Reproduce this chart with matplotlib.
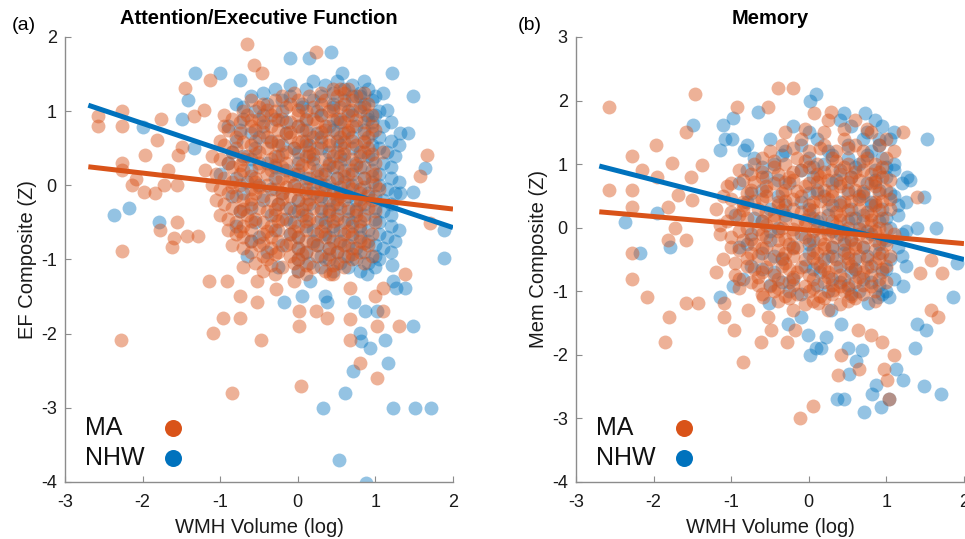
import numpy as np
import matplotlib.pyplot as plt

plt.rcParams['font.family'] = ['Liberation Sans', 'DejaVu Sans']
plt.rcParams['axes.unicode_minus'] = False

MA_COLOR = '#D95319'
NHW_COLOR = '#0072BD'

# ---- (a) Attention/Executive Function ----
# sparse points (x, y)
ef_ma_pts = [
    (-0.66, 1.91), (0.24, 1.80), (-0.57, 1.62), (-0.46, 1.51), (-1.45, 1.31), (-1.13, 1.42),
    (-2.57, 0.93), (-2.57, 0.80), (-2.27, 1.00), (-2.27, 0.80), (-1.76, 0.90), (-1.97, 0.41),
    (-2.27, 0.30), (-2.27, 0.21), (-2.09, 0.09), (-2.14, 0.00), (-1.98, -0.09), (-1.84, -0.10),
    (-1.72, 0.00), (-1.56, 0.00), (-1.67, 0.20), (-1.54, 0.41), (-1.82, 0.61), (-1.49, 0.52),
    (-1.34, 0.93), (-1.21, 1.02), (1.66, 0.41), (1.58, 0.12), (1.70, -0.51), (-2.27, -0.89),
    (-1.77, -0.60), (-1.56, -0.49), (-1.60, -0.71), (-1.43, -0.69), (-1.28, -0.69), (-1.62, -0.83),
    (-1.14, -1.29), (-0.91, -1.29), (-0.74, -1.49), (-0.53, -1.58), (-0.53, -1.29), (-1.09, -1.99),
    (-0.96, -1.79), (-0.75, -1.79), (-2.28, -2.09), (-0.47, -2.09), (-0.85, -2.80), (0.04, -2.70),
    (0.02, -1.90), (0.02, -1.70), (0.24, -1.70), (0.38, -1.79), (-0.28, -1.40), (-0.05, -1.29),
    (0.67, -2.09), (0.67, -1.39), (0.67, -1.80), (1.02, -1.90), (1.02, -2.60), (1.30, -1.90),
    (1.10, -1.70), (1.00, -1.49), (1.10, -1.39), (1.38, -1.19), (0.80, -2.40), (0.42, -1.19),
]
ef_nhw_pts = [
    (-1.32, 1.51), (-1.00, 1.51), (-0.74, 1.42), (-0.10, 1.71), (0.14, 1.71), (0.43, 1.80),
    (0.57, 1.51), (1.21, 1.51), (1.49, 1.20), (1.15, 1.02), (1.42, 0.70), (1.49, -0.09),
    (1.64, 0.23), (1.88, -0.60), (1.88, -0.98), (1.21, -1.07), (-2.37, -0.40), (-2.18, -0.31),
    (-1.79, -0.49), (-1.41, 1.15), (-1.49, 0.90), (-1.34, 0.50), (-1.99, 0.79), (0.80, 1.20),
    (0.89, 0.95), (1.32, 0.70), (1.32, -0.11),
    (-0.18, -1.58), (0.05, -1.49), (0.35, -1.49), (0.37, -1.58), (0.72, -1.58), (0.87, -1.70),
    (1.02, -1.70), (0.80, -1.99), (0.82, -2.10), (0.93, -2.19), (1.12, -2.09), (1.16, -2.40),
    (0.71, -2.50), (0.61, -2.80), (0.32, -3.00), (1.23, -3.00), (1.51, -3.00), (1.72, -3.00),
    (0.53, -3.71), (0.88, -4.01), (1.49, -1.90), (1.23, -1.29), (1.38, -1.39), (1.27, -1.39),
    (0.89, -1.19), (0.16, -1.29),
]
# dense core, read row by row (y level: x positions)
ef_ma_core = {
    1.3: [0.45, 0.65, 0.55], 1.2: [-0.2, 0.15, 0.5, 0.75], 1.1: [-0.45, -0.1, 0.3, 0.6, 0.9],
    1.0: [-0.7, -0.3, 0.1, 0.4, 0.8], 0.9: [-0.85, -0.5, -0.2, 0.2, 0.55],
    0.8: [-0.95, -0.6, -0.35, 0.0, 0.35, 0.7, 0.95], 0.7: [-0.75, -0.15, 0.15, 0.5, 0.85],
    0.6: [-1.0, -0.55, -0.25, 0.05, 0.4, 0.7], 0.5: [-0.8, -0.4, -0.05, 0.25, 0.6, 0.9],
    0.4: [-1.1, -0.65, -0.3, 0.1, 0.45, 0.8], 0.3: [-0.9, -0.5, -0.15, 0.2, 0.55, 1.0],
    0.2: [-1.2, -0.7, -0.35, 0.0, 0.35, 0.7], 0.1: [-0.95, -0.55, -0.2, 0.15, 0.5, 0.85],
    0.0: [-1.1, -0.75, -0.4, -0.05, 0.3, 0.65, 1.0], -0.1: [-0.9, -0.55, -0.2, 0.1, 0.45, 0.8],
    -0.2: [-1.05, -0.7, -0.35, 0.0, 0.3, 0.6, 0.95], -0.3: [-0.85, -0.5, -0.15, 0.2, 0.55, 0.9],
    -0.4: [-1.0, -0.65, -0.3, 0.05, 0.4, 0.75], -0.5: [-0.8, -0.45, -0.1, 0.25, 0.6, 1.0],
    -0.6: [-0.9, -0.6, -0.25, 0.1, 0.45, 0.8], -0.7: [-0.7, -0.35, 0.0, 0.35, 0.7],
    -0.8: [-0.85, -0.5, -0.15, 0.25, 0.6, 0.9], -0.9: [-0.6, -0.25, 0.1, 0.5, 0.8],
    -1.0: [-0.4, 0.0, 0.35, 0.7], -1.1: [-0.7, -0.2, 0.2, 0.6], -1.2: [-0.3, 0.1, 0.45],
    1.25: [-0.05, 0.3, 0.6, 0.85], 1.15: [-0.6, -0.3, 0.0, 0.35, 0.7],
    1.05: [-0.5, -0.15, 0.2, 0.55, 0.85], 0.95: [-0.95, -0.65, -0.35, 0.0, 0.3, 0.65, 0.95],
    0.85: [-0.75, -0.45, -0.1, 0.25, 0.6, 0.85], 0.75: [-0.9, -0.55, -0.25, 0.05, 0.35, 0.65, 1.0],
    0.65: [-0.8, -0.4, -0.1, 0.2, 0.55, 0.9], 0.55: [-0.95, -0.6, -0.25, 0.1, 0.4, 0.75],
    0.45: [-0.85, -0.5, -0.15, 0.15, 0.5, 0.85, 1.1], 0.35: [-1.0, -0.7, -0.35, 0.0, 0.35, 0.7],
    0.25: [-0.85, -0.5, -0.2, 0.15, 0.5, 0.85], 0.15: [-1.05, -0.75, -0.4, -0.05, 0.3, 0.65, 1.0],
    0.05: [-0.85, -0.55, -0.25, 0.1, 0.4, 0.75], -0.05: [-1.0, -0.6, -0.3, 0.0, 0.35, 0.7, 1.05],
    -0.15: [-0.8, -0.45, -0.1, 0.25, 0.55, 0.9], -0.25: [-0.95, -0.6, -0.25, 0.1, 0.45, 0.8],
    -0.35: [-0.75, -0.4, -0.05, 0.3, 0.65, 1.0], -0.45: [-0.9, -0.55, -0.2, 0.15, 0.5, 0.85],
    -0.55: [-0.7, -0.35, 0.0, 0.35, 0.7], -0.65: [-0.8, -0.45, -0.1, 0.25, 0.6, 0.95],
    -0.75: [-0.6, -0.25, 0.1, 0.45, 0.8], -0.85: [-0.7, -0.35, 0.0, 0.4, 0.7],
    -0.95: [-0.45, -0.1, 0.25, 0.6, 0.95], -1.05: [-0.55, -0.05, 0.5, 0.85],
    -1.15: [-0.45, 0.0, 0.35],
}
# the most crowded middle of the MA cloud
ef_ma_dense = {
    1.02: [-0.4, 0.0, 0.45, 0.7], 0.88: [-0.6, -0.25, 0.1, 0.45, 0.75],
    0.72: [-0.45, -0.1, 0.3, 0.65], 0.58: [-0.7, -0.35, 0.0, 0.3, 0.6, 0.85],
    0.42: [-0.55, -0.2, 0.2, 0.6, 0.95], 0.28: [-0.75, -0.3, 0.05, 0.4, 0.75],
    0.12: [-0.6, -0.1, 0.25, 0.6, 0.95], -0.02: [-0.85, -0.5, -0.15, 0.2, 0.55, 0.85],
    -0.18: [-0.6, -0.2, 0.15, 0.5, 0.8], -0.32: [-0.7, -0.3, 0.05, 0.4, 0.75],
    -0.48: [-0.6, -0.25, 0.1, 0.45, 0.8], -0.62: [-0.75, -0.4, -0.05, 0.3, 0.65],
    -0.78: [-0.45, -0.1, 0.2, 0.55, 0.85], -0.92: [-0.3, 0.05, 0.4, 0.7],
    -1.08: [-0.35, 0.1, 0.45],
}
ef_nhw_core = {
    1.4: [0.2, 0.5, 0.85], 1.3: [-0.3, 0.1, 0.6, 0.9], 1.2: [-0.6, -0.1, 0.3, 0.7, 1.0],
    1.1: [-0.8, -0.4, 0.05, 0.45, 0.85], 1.0: [-0.55, -0.2, 0.25, 0.65, 1.05],
    0.9: [-0.7, -0.3, 0.1, 0.5, 0.9], 0.8: [-0.9, -0.45, 0.0, 0.4, 0.75, 1.1],
    0.7: [-0.6, -0.15, 0.25, 0.6, 0.95], 0.6: [-0.8, -0.35, 0.1, 0.5, 0.85, 1.2],
    0.5: [-0.55, -0.05, 0.3, 0.7, 1.05], 0.4: [-0.7, -0.25, 0.15, 0.55, 0.9, 1.25],
    0.3: [-0.9, -0.4, 0.0, 0.4, 0.75, 1.1], 0.2: [-0.6, -0.15, 0.25, 0.6, 0.95],
    0.1: [-0.8, -0.3, 0.1, 0.5, 0.85, 1.2], 0.0: [-0.5, -0.05, 0.35, 0.7, 1.05],
    -0.1: [-0.7, -0.2, 0.2, 0.55, 0.9, 1.25], -0.2: [-0.45, 0.0, 0.4, 0.75, 1.1],
    -0.3: [-0.6, -0.1, 0.3, 0.65, 1.0], -0.4: [-0.35, 0.1, 0.5, 0.85, 1.2],
    -0.5: [-0.55, -0.05, 0.35, 0.7, 1.05], -0.6: [-0.3, 0.2, 0.55, 0.9, 1.3],
    -0.7: [-0.5, 0.0, 0.4, 0.8, 1.15], -0.8: [-0.2, 0.25, 0.65, 1.0],
    -0.9: [-0.4, 0.1, 0.5, 0.85, 1.2], -1.0: [0.0, 0.4, 0.75, 1.05], -1.1: [-0.25, 0.3, 0.65, 1.0],
    1.35: [-0.1, 0.35, 0.7], 1.25: [-0.45, 0.45, 0.8, 1.1], 1.15: [-0.2, 0.2, 0.6, 0.95],
    1.05: [-0.7, 0.05, 0.45, 0.8], 0.95: [-0.45, 0.3, 0.7, 1.0], 0.85: [-0.15, 0.55, 0.95, 1.2],
    0.75: [-0.75, 0.1, 0.45, 0.85], 0.65: [-0.5, 0.3, 0.7, 1.05],
    0.55: [-0.2, 0.15, 0.55, 0.95, 1.3], 0.45: [-0.85, 0.0, 0.4, 0.8, 1.15],
    0.35: [-0.6, 0.2, 0.6, 0.95], 0.25: [-0.3, 0.45, 0.8, 1.2],
    0.15: [-1.0, 0.0, 0.35, 0.7, 1.05], 0.05: [-0.65, 0.25, 0.6, 0.95, 1.3],
    -0.05: [-0.35, 0.1, 0.45, 0.8, 1.15], -0.15: [-0.85, 0.3, 0.65, 1.0],
    -0.25: [-0.25, 0.15, 0.5, 0.85, 1.2], -0.35: [-0.75, 0.0, 0.4, 0.75, 1.1],
    -0.45: [-0.15, 0.3, 0.65, 1.0], -0.55: [-0.8, 0.1, 0.45, 0.8, 1.2],
    -0.65: [-0.1, 0.35, 0.7, 1.05], -0.75: [-0.6, 0.2, 0.55, 0.9, 1.25],
    -0.85: [0.0, 0.4, 0.75, 1.1], -0.95: [-0.65, 0.3, 0.65, 1.0],
    -1.05: [0.15, 0.55, 0.9], -1.15: [0.0, 0.45, 0.8],
}

# ---- (b) Memory ----
mem_ma_pts = [
    (-2.57, 1.90), (-1.46, 2.11), (-0.40, 2.20), (-0.20, 2.20), (-0.93, 1.90), (-0.53, 1.90),
    (-1.58, 1.51), (-1.97, 1.30), (-2.28, 1.12), (-2.15, 0.91), (-1.96, 0.80), (-1.76, 1.01),
    (-2.57, 0.60), (-2.28, 0.60), (-2.28, 0.33), (-1.81, 0.33), (-1.68, 0.51), (-1.52, 0.80),
    (-1.38, 0.98), (-1.51, 0.43), (-1.73, 0.00), (-1.82, -0.19), (-1.58, -0.19), (-2.28, -0.40),
    (1.40, 0.49), (1.21, 1.51), (1.57, -0.51), (0.29, 1.82), (0.07, 1.80),
    (-2.28, -0.80), (-2.09, -1.09), (-1.80, -1.40), (-1.85, -1.80), (-1.58, -1.19), (-1.43, -1.19),
    (-1.09, -1.19), (-1.09, -1.40), (-0.96, -1.61), (-0.85, -2.11), (-0.62, -1.80), (-0.28, -1.80),
    (-0.59, -1.09), (-0.78, -1.30), (-0.53, -1.40), (-0.49, -1.61), (-0.18, -1.61), (-0.11, -3.00),
    (0.05, -2.81), (0.38, -2.31), (0.42, -2.01), (0.65, -2.22), (0.97, -2.22), (1.01, -2.40),
    (1.04, -2.70), (1.10, -2.01), (0.95, -1.80), (0.80, -1.69), (0.63, -1.61), (1.57, -1.30),
    (1.66, -1.40), (1.72, -0.72), (1.44, -0.72), (0.12, -1.19), (0.31, -0.98),
]
mem_nhw_pts = [
    (0.09, 2.11), (0.01, 2.00), (-1.49, 1.61), (-1.10, 1.61), (-0.98, 1.72), (-0.66, 1.82),
    (-1.08, 1.40), (-0.99, 1.40), (-1.15, 1.22), (-0.83, 1.22), (-2.37, 0.09), (-1.96, 0.23),
    (-1.79, -0.30), (-2.18, -0.40), (1.53, 1.40), (1.49, 0.49), (1.64, 0.00), (1.40, -0.01),
    (1.27, 0.80), (1.10, 0.91), (0.73, 1.80), (0.91, 1.40), (0.46, 1.80), (1.91, -0.56),
    (-1.15, -1.09), (-0.98, -0.91), (-0.51, -1.19), (-0.27, -1.51), (-0.10, -1.40), (-0.01, -1.69),
    (0.01, -2.01), (0.09, -1.90), (0.16, -1.90), (0.22, -1.72), (0.37, -2.69), (0.45, -2.69),
    (0.50, -1.90), (0.52, -2.30), (0.61, -2.09), (0.69, -1.93), (0.71, -2.90), (0.82, -2.61),
    (0.87, -2.48), (0.93, -2.82), (1.04, -2.69), (1.12, -2.22), (1.22, -2.40), (1.37, -1.90),
    (1.40, -1.51), (1.51, -1.61), (1.49, -2.49), (1.71, -2.61), (1.86, -1.09), (0.29, -1.30),
    (0.42, -1.51), (0.76, -1.19), (0.89, -1.09), (1.04, -1.09), (1.21, -0.91),
]
mem_ma_core = {
    1.7: [0.25, 0.6], 1.5: [-0.3, 0.2, 0.8], 1.4: [-0.1, 0.45, 1.0],
    1.2: [-0.5, 0.0, 0.35, 0.7, 1.1], 1.0: [-0.7, -0.3, 0.1, 0.5, 0.85],
    0.9: [-0.9, -0.1, 0.3, 0.7], 0.8: [-0.6, -0.25, 0.15, 0.55, 0.95],
    0.7: [-1.0, -0.45, 0.0, 0.4, 0.8], 0.6: [-0.75, -0.3, 0.2, 0.6, 1.0],
    0.5: [-1.1, -0.55, -0.1, 0.3, 0.7], 0.4: [-0.85, -0.4, 0.05, 0.45, 0.85],
    0.3: [-1.2, -0.65, -0.2, 0.25, 0.65, 1.05], 0.2: [-0.9, -0.45, 0.0, 0.4, 0.8],
    0.1: [-1.05, -0.6, -0.15, 0.3, 0.7], 0.0: [-0.8, -0.35, 0.1, 0.5, 0.9],
    -0.1: [-1.15, -0.6, -0.2, 0.25, 0.65, 1.1], -0.2: [-0.85, -0.4, 0.0, 0.45, 0.85],
    -0.3: [-1.0, -0.55, -0.15, 0.3, 0.7], -0.4: [-0.75, -0.3, 0.1, 0.5, 0.95],
    -0.5: [-1.1, -0.5, -0.05, 0.35, 0.75], -0.6: [-0.8, -0.35, 0.15, 0.55, 1.0],
    -0.7: [-1.2, -0.6, -0.15, 0.25, 0.7], -0.8: [-0.9, -0.4, 0.05, 0.45, 0.9],
    -0.9: [-0.65, -0.2, 0.3, 0.7], -1.0: [-0.45, 0.0, 0.45, 0.85],
    -1.1: [-0.25, 0.2, 0.6], -1.2: [-0.05, 0.4],
    1.55: [-0.05, 0.45, 0.75], 1.3: [-0.35, 0.2, 0.6, 0.9], 1.1: [-0.6, -0.15, 0.3, 0.75, 1.0],
    0.95: [-0.45, 0.0, 0.45, 0.95], 0.85: [-0.75, -0.4, 0.1, 0.4, 0.8],
    0.75: [-0.85, -0.2, 0.25, 0.65, 1.05], 0.65: [-1.05, -0.55, -0.05, 0.4, 0.85],
    0.55: [-0.8, -0.35, 0.1, 0.5, 0.9], 0.45: [-1.0, -0.6, -0.2, 0.25, 0.65, 1.05],
    0.35: [-0.85, -0.4, 0.0, 0.4, 0.85], 0.25: [-1.0, -0.55, -0.1, 0.35, 0.75],
    0.15: [-0.8, -0.3, 0.15, 0.55, 0.95], 0.05: [-1.15, -0.55, -0.05, 0.35, 0.8],
    -0.05: [-0.9, -0.4, 0.05, 0.45, 0.85], -0.15: [-1.0, -0.55, -0.05, 0.35, 0.75],
    -0.25: [-0.7, -0.25, 0.2, 0.6, 1.0], -0.35: [-0.9, -0.4, 0.05, 0.45, 0.85],
    -0.45: [-0.65, -0.2, 0.25, 0.65, 1.05], -0.55: [-0.95, -0.3, 0.1, 0.5, 0.85],
    -0.65: [-0.7, -0.25, 0.2, 0.6, 0.95], -0.75: [-0.95, -0.45, 0.0, 0.4, 0.8],
    -0.85: [-0.75, -0.25, 0.2, 0.6, 1.0], -0.95: [-0.9, -0.4, 0.05, 0.5],
    -1.05: [-0.6, -0.15, 0.3, 0.7], -1.15: [-0.4, 0.05, 0.5, 0.85], -1.3: [-0.2, 0.25],
}
mem_ma_dense = {
    1.25: [-0.2, 0.15, 0.5], 1.05: [-0.45, -0.05, 0.35, 0.7],
    0.88: [-0.6, -0.2, 0.2, 0.6, 0.9], 0.72: [-0.7, -0.3, 0.1, 0.5, 0.85],
    0.58: [-0.55, -0.15, 0.3, 0.7], 0.42: [-0.7, -0.3, 0.15, 0.55, 0.95],
    0.28: [-0.85, -0.35, 0.05, 0.5, 0.9], 0.12: [-0.45, -0.05, 0.4, 0.8],
    -0.02: [-0.65, -0.2, 0.25, 0.65, 1.0], -0.18: [-0.75, -0.3, 0.15, 0.55, 0.95],
    -0.32: [-0.6, -0.2, 0.2, 0.6], -0.48: [-0.8, -0.35, 0.05, 0.5, 0.9],
    -0.62: [-0.55, -0.1, 0.35, 0.75], -0.78: [-0.65, -0.2, 0.25, 0.65],
    -0.92: [-0.5, -0.05, 0.4, 0.8], -1.08: [-0.3, 0.15, 0.55],
}
mem_nhw_core = {
    1.7: [0.4, 0.85], 1.6: [-0.2, 0.55, 0.95], 1.4: [-0.5, 0.1, 0.7, 1.05],
    1.2: [-0.3, 0.25, 0.8], 1.1: [-0.7, 0.0, 0.5, 0.95], 1.0: [-0.45, 0.2, 0.65, 1.1],
    0.9: [-0.8, -0.1, 0.4, 0.85], 0.8: [-0.55, 0.05, 0.55, 1.0],
    0.7: [-0.9, -0.25, 0.3, 0.75, 1.2], 0.6: [-0.6, 0.1, 0.5, 0.9],
    0.5: [-0.4, 0.2, 0.65, 1.1], 0.4: [-0.8, -0.1, 0.4, 0.8, 1.25],
    0.3: [-0.5, 0.0, 0.55, 0.95], 0.2: [-0.95, -0.3, 0.25, 0.7, 1.15],
    0.1: [-0.6, 0.1, 0.5, 0.9], 0.0: [-0.4, 0.2, 0.65, 1.05],
    -0.1: [-0.75, -0.1, 0.4, 0.8, 1.2], -0.2: [-0.5, 0.05, 0.55, 1.0],
    -0.3: [-0.9, -0.2, 0.3, 0.7, 1.15], -0.4: [-0.6, 0.0, 0.45, 0.9],
    -0.5: [-0.35, 0.2, 0.6, 1.05], -0.6: [-0.75, -0.05, 0.4, 0.8, 1.25],
    -0.7: [-0.45, 0.15, 0.55, 0.95], -0.8: [-0.85, -0.2, 0.3, 0.7, 1.1],
    -0.9: [-0.5, 0.1, 0.5, 0.9], -1.0: [-0.25, 0.25, 0.65, 1.0],
    1.5: [0.0, 0.75, 1.1], 1.3: [-0.8, -0.1, 0.5, 0.9], 1.15: [-0.35, 0.3, 0.75],
    0.95: [-0.6, 0.05, 0.6, 1.0], 0.75: [-0.4, 0.35, 0.85, 1.3], 0.55: [-0.75, 0.0, 0.7, 1.05],
    0.35: [-0.3, 0.3, 0.8, 1.15], 0.15: [-0.7, 0.05, 0.6, 1.0], -0.05: [-0.5, 0.3, 0.75, 1.25],
    -0.25: [-0.8, 0.0, 0.45, 0.9], -0.45: [-0.45, 0.3, 0.75, 1.2], -0.65: [-0.6, 0.05, 0.6, 1.0],
    -0.85: [-0.35, 0.4, 0.8], -1.05: [-0.1, 0.55, 0.95],
}

# fitted lines: values at the two ends
fit_x = [-2.7, 2.0]
ef_fit_ma = [0.25, -0.32]
ef_fit_nhw = [1.08, -0.57]
mem_fit_ma = [0.25, -0.25]
mem_fit_nhw = [0.97, -0.50]

groups = ['MA', 'NHW']


def collect(pts, *cores):
    xs = [p[0] for p in pts]
    ys = [p[1] for p in pts]
    for core in cores:
        for y, row in core.items():
            xs += row
            ys += [y] * len(row)
    return np.array(xs), np.array(ys)


fig = plt.figure(figsize=(9.65, 5.39), dpi=100)
ax_a = fig.add_axes([0.0674, 0.1058, 0.402, 0.8256])
ax_b = fig.add_axes([0.5969, 0.1058, 0.402, 0.8256])

panels = [
    (ax_a, collect(ef_ma_pts, ef_ma_core, ef_ma_dense), collect(ef_nhw_pts, ef_nhw_core),
     ef_fit_ma, ef_fit_nhw, 'Attention/Executive Function', 'EF Composite (Z)', (-4, 2)),
    (ax_b, collect(mem_ma_pts, mem_ma_core, mem_ma_dense), collect(mem_nhw_pts, mem_nhw_core),
     mem_fit_ma, mem_fit_nhw, 'Memory', 'Mem Composite (Z)', (-4, 3)),
]

for ax, (mx, my), (nx, ny), fit_ma, fit_nhw, title, ylabel, ylim in panels:
    # NHW underneath, MA on top (as in the original)
    ax.scatter(nx, ny, s=100, color=NHW_COLOR, alpha=0.42, linewidths=0, zorder=2)
    ax.scatter(mx, my, s=100, color=MA_COLOR, alpha=0.45, linewidths=0, zorder=2)
    ax.plot(fit_x, fit_nhw, color=NHW_COLOR, lw=3.6, solid_capstyle='butt', zorder=3)
    ax.plot(fit_x, fit_ma, color=MA_COLOR, lw=3.6, solid_capstyle='butt', zorder=3)

    ax.set_xlim(-3, 2)
    ax.set_ylim(*ylim)
    ax.set_xticks(range(-3, 3))
    ax.set_yticks(range(ylim[0], ylim[1] + 1))
    for s in ['top', 'right']:
        ax.spines[s].set_visible(False)
    for s in ['left', 'bottom']:
        ax.spines[s].set_color('#8c8c8c')
        ax.spines[s].set_linewidth(1.0)
    ax.tick_params(direction='in', length=4, color='#8c8c8c', labelsize=13,
                   labelcolor='#1a1a1a')
    ax.tick_params(axis='x', pad=9)
    ax.tick_params(axis='y', pad=6)
    ax.set_title(title, fontsize=14.5, fontweight='bold', pad=9)
    ax.set_xlabel('WMH Volume (log)', fontsize=14.5, color='#1a1a1a', labelpad=5)
    ax.set_ylabel(ylabel, fontsize=14.5, color='#1a1a1a', labelpad=3)

    # legend drawn by hand: label on the left, solid marker on the right
    for name, color, ly in zip(groups, [MA_COLOR, NHW_COLOR], [0.121, 0.054]):
        ax.text(0.052, ly, name, transform=ax.transAxes, fontsize=18,
                va='center', ha='left', color='#111111', zorder=5)
        ax.scatter([0.278], [ly], s=150, color=color, transform=ax.transAxes,
                   linewidths=0, zorder=5, clip_on=False)

fig.text(0.012, 0.953, '(a)', fontsize=14, va='center')
fig.text(0.537, 0.953, '(b)', fontsize=14, va='center')

fig.savefig('out.png', dpi=100)
